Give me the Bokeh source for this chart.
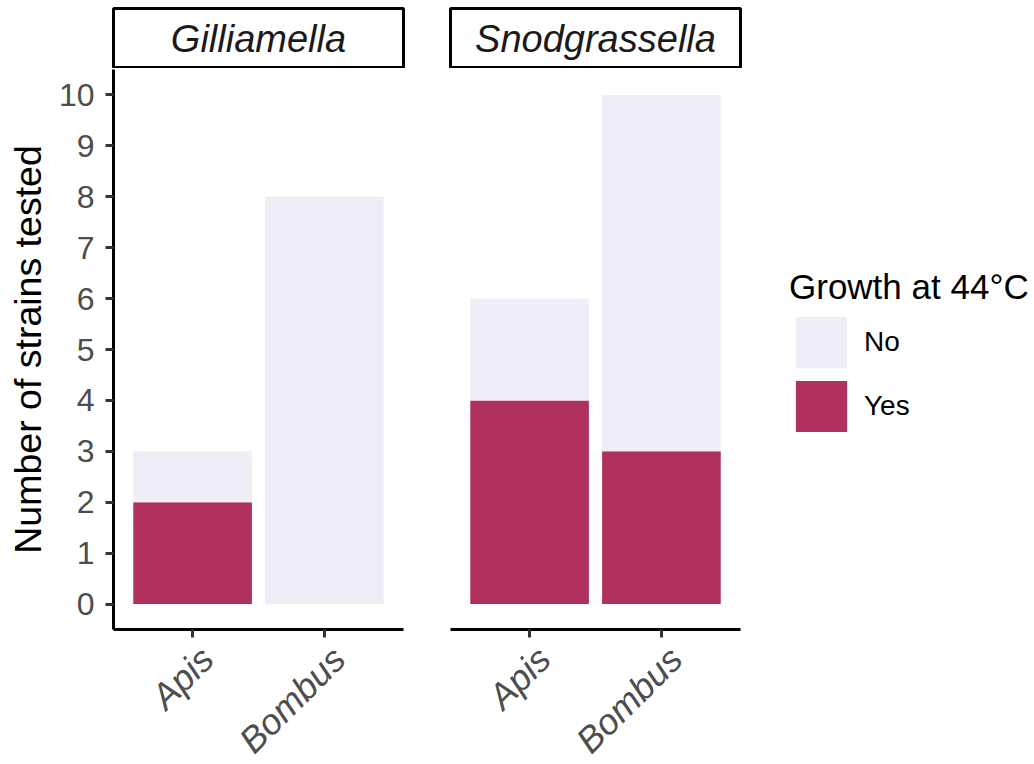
import math
from bokeh.plotting import figure
from bokeh.models import (FactorRange, Range1d, FixedTicker, Legend, LegendItem,
                          ColumnDataSource)
from bokeh.layouts import row, column
from bokeh.embed import file_html
from bokeh.resources import INLINE
from bokeh.core.properties import value

# ---------------- data ----------------
genera = ["Gilliamella", "Snodgrassella"]
hosts = ["Apis", "Bombus"]
yes_gilliamella = [2, 0]
no_gilliamella = [1, 8]
yes_snodgrassella = [4, 3]
no_snodgrassella = [2, 7]
growth_levels = ["No", "Yes"]
growth_colors = ["#EFEDF5", "#B03060"]
y_ticks = [0, 1, 2, 3, 4, 5, 6, 7, 8, 9, 10]
y_label = "Number of strains tested"
legend_title = "Growth at 44°C"

counts = {
    "Gilliamella": {"Yes": yes_gilliamella, "No": no_gilliamella},
    "Snodgrassella": {"Yes": yes_snodgrassella, "No": no_snodgrassella},
}
color_of = dict(zip(growth_levels, growth_colors))

FONT = "Liberation Sans"
FRAME_W = 290
FRAME_H = 560
AXIS_BORDER = 9
y_range = Range1d(-0.5, 10.5)


def base_fig(**kw):
    f = figure(toolbar_location=None, output_backend="svg", **kw)
    f.grid.visible = False
    f.background_fill_color = "white"
    f.border_fill_color = "white"
    return f


def make_strip(label, left, right):
    s = base_fig(frame_width=FRAME_W, frame_height=60, min_border_left=left,
                 min_border_right=right, min_border_top=8, min_border_bottom=0,
                 x_range=Range1d(0, 1), y_range=Range1d(0, 1),
                 x_axis_location=None, y_axis_location=None)
    s.outline_line_color = "black"
    s.outline_line_width = 3
    s.text(x=[0.5], y=[0.5], text=[label], text_align="center",
           text_baseline="middle", text_font=value(FONT),
           text_font_style="italic", text_font_size="38px",
           text_color="#1A1A1A")
    return s


def make_panel(genus, left, right, show_y):
    xr = FactorRange(factors=hosts, range_padding=0.1,
                     range_padding_units="absolute")
    p = base_fig(frame_width=FRAME_W, frame_height=FRAME_H,
                 x_range=xr, y_range=y_range,
                 min_border_left=left, min_border_right=right,
                 min_border_top=1, min_border_bottom=AXIS_BORDER,
                 y_axis_location="left" if show_y else None)
    p.outline_line_color = None
    src = ColumnDataSource(dict(host=hosts, Yes=counts[genus]["Yes"],
                                No=counts[genus]["No"]))
    rs = p.vbar_stack(["Yes", "No"], x="host", width=0.9, source=src,
                      fill_color=[color_of["Yes"], color_of["No"]],
                      line_color=None)
    ax = p.xaxis[0]
    ax.axis_line_color = "black"
    ax.axis_line_width = 3
    ax.major_tick_line_color = "#333333"
    ax.major_tick_line_width = 3
    ax.major_tick_out = 8
    ax.major_tick_in = 0
    ax.minor_tick_line_color = None
    ax.major_label_text_color = None
    ax.major_label_text_font_size = "1px"
    ax.major_label_standoff = 0
    if show_y:
        ay = p.yaxis[0]
        ay.ticker = FixedTicker(ticks=y_ticks)
        ay.axis_line_color = "black"
        ay.axis_line_width = 3
        ay.major_tick_line_color = "#333333"
        ay.major_tick_line_width = 3
        ay.major_tick_out = 8
        ay.major_tick_in = 0
        ay.minor_tick_line_color = None
        ay.major_label_text_font = FONT
        ay.major_label_text_font_size = "32px"
        ay.major_label_text_color = "#4D4D4D"
        ay.major_label_standoff = 11
        ay.axis_label = y_label
        ay.axis_label_text_font = FONT
        ay.axis_label_text_font_size = "37.5px"
        ay.axis_label_text_font_style = "normal"
        ay.axis_label_text_color = "black"
        ay.axis_label_standoff = 7
    return p, rs


def make_host_labels(xr, left, right):
    # rotated host-name tick labels, anchored top-right under each tick
    f = base_fig(frame_width=FRAME_W,
                 frame_height=764 - 68 - 1 - FRAME_H - AXIS_BORDER,
                 min_border_left=left, min_border_right=right,
                 min_border_top=0, min_border_bottom=0,
                 x_range=xr, y_range=Range1d(0, 1),
                 x_axis_location=None, y_axis_location=None)
    f.outline_line_color = None
    f.text(x=hosts, y=[1] * len(hosts), text=hosts, angle=math.pi / 4,
           text_align="right", text_baseline="top", y_offset=0,
           text_font=value(FONT), text_font_style="italic",
           text_font_size="36px", text_color="#4D4D4D")
    return f


strip1 = make_strip(genera[0], 113, 23)
p1, rs1 = make_panel(genera[0], 113, 23, True)
lab1 = make_host_labels(p1.x_range, 113, 23)
strip2 = make_strip(genera[1], 24, 5)
p2, rs2 = make_panel(genera[1], 24, 294, False)
lab2 = make_host_labels(p2.x_range, 24, 5)

legend = Legend(
    items=[LegendItem(label=lvl, renderers=[rs2[["Yes", "No"].index(lvl)]])
           for lvl in growth_levels],
    location=(49, 191), title=legend_title,
    margin=0, padding=0, spacing=0,
    glyph_width=64, glyph_height=64, label_height=64, label_standoff=11,
    border_line_color=None, background_fill_alpha=0,
    label_text_font=FONT, label_text_font_size="28px",
    label_text_color="black", label_text_baseline="middle",
    title_text_font=FONT, title_text_font_size="35px",
    title_text_font_style="normal", title_text_color="black",
    title_standoff=3,
)
p2.add_layout(legend, "right")

layout = row(column(strip1, p1, lab1), column(strip2, p2, lab2))

with open("out.html", "w") as f:
    f.write(file_html(layout, INLINE))
